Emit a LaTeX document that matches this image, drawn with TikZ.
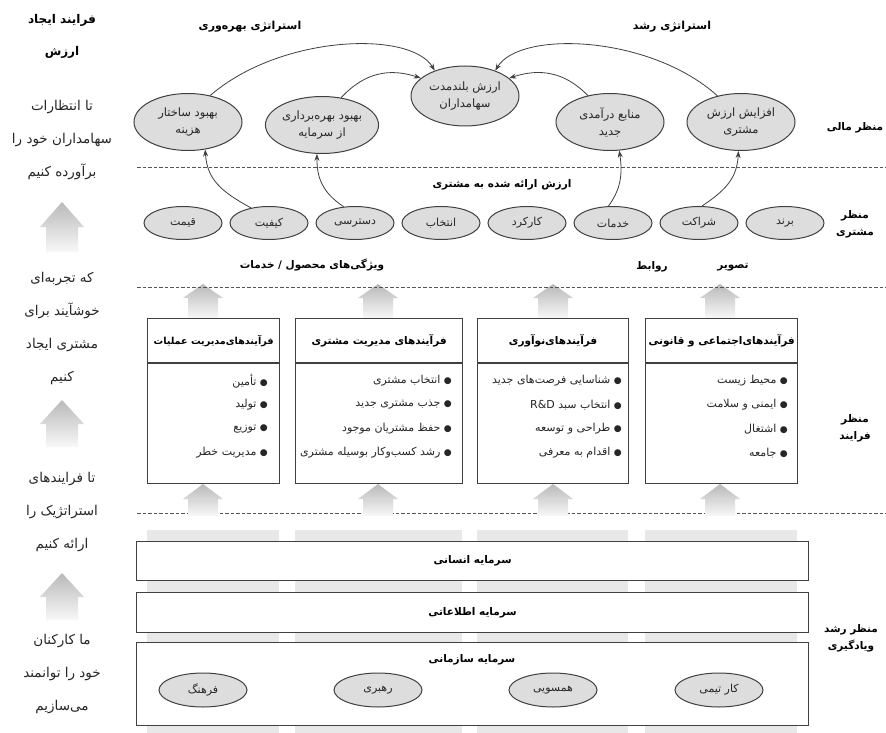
\documentclass[tikz,border=0pt]{standalone}
\usepackage{fontspec}
\usetikzlibrary{arrows.meta,shapes.geometric}
\TeXXeTstate=1
\newfontfamily\fa[Script=Arabic]{DejaVu Sans}
\newcommand{\rtltxt}[1]{\beginR #1\endR}
\definecolor{ellfill}{HTML}{DDDDDD}
\definecolor{linec}{HTML}{404040}
\definecolor{dashc}{HTML}{555555}
\definecolor{bandc}{HTML}{E8E8E8}
\definecolor{arrtop}{HTML}{B9B9B9}
\definecolor{arrbot}{HTML}{F8F8F8}
\newcommand{\blockarr}[6]{%
  \shade[top color=arrtop, bottom color=arrbot]
   (#1,#2) -- ({#1+#3},{#2-#5}) -- ({#1+#4},{#2-#5}) -- ({#1+#4},#6)
   -- ({#1-#4},#6) -- ({#1-#4},{#2-#5}) -- ({#1-#3},{#2-#5}) -- cycle;}
\newcommand{\bul}{{\fontsize{9}{10}\selectfont ●}}
\begin{document}
\begin{tikzpicture}[x=1pt,y=1pt,
  ell/.style={ellipse, draw=linec, fill=ellfill, line width=1pt, inner sep=0pt, align=center, text=black!85},
  fell/.style={ell, minimum width=108pt, minimum height=57pt, font=\fa\fontsize{11.5}{17}\selectfont},
  cell/.style={ell, minimum width=78pt, minimum height=33pt, font=\fa\fontsize{11}{13}\selectfont},
  oell/.style={ell, minimum width=88pt, minimum height=34pt, font=\fa\fontsize{11}{13}\selectfont},
  conn/.style={draw=linec, line width=0.8pt, -{Stealth[length=7pt,width=5pt]}},
  sepline/.style={draw=dashc, line width=0.7pt, dash pattern=on 3.5pt off 2pt},
  head/.style={font=\fa\bfseries\fontsize{11}{13}\selectfont, inner sep=1pt},
  persp/.style={font=\fa\bfseries\fontsize{10.5}{17}\selectfont, align=center, inner sep=1pt},
  lhead/.style={font=\fa\bfseries\fontsize{12}{32}\selectfont, align=center, inner sep=1pt},
  ltxt/.style={font=\fa\fontsize{13.5}{33}\selectfont, align=center, inner sep=1pt, text=black!85},
  procbox/.style={draw=linec, line width=1.2pt, fill=white, inner sep=0pt},
  phead/.style={procbox, minimum height=44pt, anchor=north west, font=\fa\bfseries\fontsize{10.5}{12}\selectfont},
  item/.style={anchor=east, font=\fa\fontsize{11}{13}\selectfont, inner sep=0pt, text=black!85},
  capbox/.style={draw=linec, line width=1.2pt, fill=white, inner sep=0pt, anchor=north west, minimum width=672pt},
  captitle/.style={font=\fa\bfseries\fontsize{10.5}{12}\selectfont, inner sep=1pt},
  blab/.style={font=\fa\bfseries\fontsize{10.5}{12}\selectfont, inner sep=1pt}
]
\useasboundingbox (0,0) rectangle (886,-733);
\fill[white] (0,0) rectangle (886,-733);

% background bands (learning perspective)
\fill[bandc] (147,-530) rectangle (279,-733);
\fill[bandc] (295,-530) rectangle (462,-733);
\fill[bandc] (477,-530) rectangle (628,-733);
\fill[bandc] (645,-530) rectangle (797,-733);

% ---------------- left column ----------------
\node[lhead] (vc) at (62,-36) {\rtltxt{فرایند ایجاد}\\\rtltxt{ارزش}};
\node[ltxt] (l1) at (62,-140) {\rtltxt{تا انتظارات}\\\rtltxt{سهامداران خود را}\\\rtltxt{برآورده کنیم}};
\blockarr{62}{-202}{22}{16}{25}{-252}
\node[ltxt] (l2) at (62,-328) {\rtltxt{که تجربه‌ای}\\\rtltxt{خوشآیند برای}\\\rtltxt{مشتری ایجاد}\\\rtltxt{کنیم}};
\blockarr{62}{-400}{22}{16}{24}{-447}
\node[ltxt] (l3) at (62,-512) {\rtltxt{تا فرایندهای}\\\rtltxt{استراتژیک را}\\\rtltxt{ارائه کنیم}};
\blockarr{62}{-573}{22}{16}{24}{-620}
\node[ltxt] (l4) at (62,-674) {\rtltxt{ما کارکنان}\\\rtltxt{خود را توانمند}\\\rtltxt{می‌سازیم}};

% ---------------- financial perspective ----------------
\node[head] (hp) at (250,-27) {\rtltxt{استراتژی بهره‌وری}};
\node[head] (hg) at (672,-27) {\rtltxt{استراتژی رشد}};
\node[fell] (cost) at (188,-122) {\rtltxt{بهبود ساختار}\\\rtltxt{هزینه}};
\node[fell] (capu) at (322,-125) {\rtltxt{بهبود بهره‌برداری}\\\rtltxt{از سرمایه}};
\node[fell, minimum height=60pt] (lt) at (465,-96) {\rtltxt{ارزش بلندمدت}\\\rtltxt{سهامداران}};
\node[fell] (rev) at (610,-122) {\rtltxt{منابع درآمدی}\\\rtltxt{جدید}};
\node[fell] (cv) at (741,-122) {\rtltxt{افزایش ارزش}\\\rtltxt{مشتری}};
\node[persp] (pf) at (855,-128) {\rtltxt{منظر مالی}};

\draw[conn] (cost.50) .. controls (280,-35) and (410,-30) .. (lt.140);
\draw[conn] (capu.55) .. controls (365,-72) and (390,-68) .. (lt.158);
\draw[conn] (rev.130) .. controls (565,-72) and (540,-68) .. (lt.22);
\draw[conn] (cv.132) .. controls (650,-35) and (520,-30) .. (lt.40);

\draw[sepline] (137,-167) -- (886,-167);

% ---------------- customer perspective ----------------
\node[blab] (cvp) at (502,-185) {\rtltxt{ارزش ارائه شده به مشتری}};
\node[cell] (c1) at (183,-223) {\rtltxt{قیمت}};
\node[cell] (c2) at (269,-223) {\rtltxt{کیفیت}};
\node[cell] (c3) at (355,-223) {\rtltxt{دسترسی}};
\node[cell] (c4) at (441,-223) {\rtltxt{انتخاب}};
\node[cell] (c5) at (527,-223) {\rtltxt{کارکرد}};
\node[cell] (c6) at (613,-223) {\rtltxt{خدمات}};
\node[cell] (c7) at (699,-223) {\rtltxt{شراکت}};
\node[cell] (c8) at (785,-223) {\rtltxt{برند}};
\node[persp] (pc) at (855,-224) {\rtltxt{منظر}\\\rtltxt{مشتری}};
\node[blab] (attr) at (312,-265) {\rtltxt{ویژگی‌های محصول / خدمات}};
\node[blab] (rel) at (652,-267) {\rtltxt{روابط}};
\node[blab] (img) at (733,-267) {\rtltxt{تصویر}};

\draw[conn] (c2.140) .. controls (222,-192) and (207,-180) .. (cost.-58);
\draw[conn] (c3.125) .. controls (322,-192) and (317,-178) .. (capu.-100);
\draw[conn] (c6.105) .. controls (620,-190) and (623,-176) .. (rev.-72);
\draw[conn] (c7.80) .. controls (726,-190) and (737,-178) .. (cv.-95);

% arrows from processes to customer
\blockarr{203}{-284}{20}{15}{14}{-318}
\blockarr{378}{-284}{20}{15}{14}{-318}
\blockarr{553}{-284}{20}{15}{14}{-318}
\blockarr{720}{-284}{20}{15}{14}{-318}
\draw[sepline] (137,-287) -- (886,-287);

% ---------------- process perspective ----------------
\node[phead, minimum width=132pt, font=\fa\bfseries\fontsize{9.6}{12}\selectfont] (b1h) at (147,-318) {\rtltxt{فرآیندهای‌مدیریت عملیات}};
\node[procbox, anchor=north, minimum width=132pt, minimum height=120pt] (b1) at (b1h.south) {};
\node[phead, minimum width=167pt] (b2h) at (295,-318) {\rtltxt{فرآیندهای مدیریت مشتری}};
\node[procbox, anchor=north, minimum width=167pt, minimum height=120pt] (b2) at (b2h.south) {};
\node[phead, minimum width=151pt] (b3h) at (477,-318) {\rtltxt{فرآیندهای‌نوآوری}};
\node[procbox, anchor=north, minimum width=151pt, minimum height=120pt] (b3) at (b3h.south) {};
\node[phead, minimum width=152pt] (b4h) at (645,-318) {\rtltxt{فرآیندهای‌اجتماعی و قانونی}};
\node[procbox, anchor=north, minimum width=152pt, minimum height=120pt] (b4) at (b4h.south) {};

\node[item] (i11) at (268,-381) {\rtltxt{\bul\ تأمین}};
\node[item] (i12) at (268,-405) {\rtltxt{\bul\ تولید}};
\node[item] (i13) at (268,-429) {\rtltxt{\bul\ توزیع}};
\node[item] (i14) at (268,-453) {\rtltxt{\bul\ مدیریت خطر}};

\node[item] (i21) at (452,-381) {\rtltxt{\bul\ انتخاب مشتری}};
\node[item] (i22) at (452,-405) {\rtltxt{\bul\ جذب مشتری جدید}};
\node[item] (i23) at (452,-429) {\rtltxt{\bul\ حفظ مشتریان موجود}};
\node[item] (i24) at (452,-453) {\rtltxt{\bul\ رشد کسب‌وکار بوسیله مشتری}};

\node[item] (i31) at (622,-381) {\rtltxt{\bul\ شناسایی فرصت‌های جدید}};
\node[item] (i32) at (622,-405) {\rtltxt{\bul\ انتخاب سبد \beginL R\&D\endL}};
\node[item] (i33) at (622,-429) {\rtltxt{\bul\ طراحی و توسعه}};
\node[item] (i34) at (622,-453) {\rtltxt{\bul\ اقدام به معرفی}};

\node[item] (i41) at (788,-381) {\rtltxt{\bul\ محیط زیست}};
\node[item] (i42) at (788,-405) {\rtltxt{\bul\ ایمنی و سلامت}};
\node[item] (i43) at (788,-429) {\rtltxt{\bul\ اشتغال}};
\node[item] (i44) at (788,-453) {\rtltxt{\bul\ جامعه}};

\node[persp] (pp) at (855,-428) {\rtltxt{منظر}\\\rtltxt{فرایند}};

\draw[sepline] (137,-513) -- (886,-513);
\blockarr{203}{-484}{20}{15}{15}{-516}
\blockarr{378}{-484}{20}{15}{15}{-516}
\blockarr{553}{-484}{20}{15}{15}{-516}
\blockarr{720}{-484}{20}{15}{15}{-516}

% ---------------- learning & growth ----------------
\node[capbox, minimum height=39pt] (hum) at (136,-541) {};
\node[captitle] (humt) at (hum.center) {\rtltxt{سرمایه انسانی}};
\node[capbox, minimum height=40pt] (inf) at (136,-592) {};
\node[captitle] (inft) at (inf.center) {\rtltxt{سرمایه اطلاعاتی}};
\node[capbox, minimum height=83pt] (org) at (136,-642) {};
\node[captitle] (orgt) at (472,-660) {\rtltxt{سرمایه سازمانی}};
\node[oell] (o1) at (203,-690) {\rtltxt{فرهنگ}};
\node[oell] (o2) at (378,-690) {\rtltxt{رهبری}};
\node[oell] (o3) at (553,-690) {\rtltxt{همسویی}};
\node[oell] (o4) at (719,-690) {\rtltxt{کار تیمی}};
\node[persp] (pl) at (851,-638) {\rtltxt{منظر رشد}\\\rtltxt{ویادگیری}};
\end{tikzpicture}
\end{document}
